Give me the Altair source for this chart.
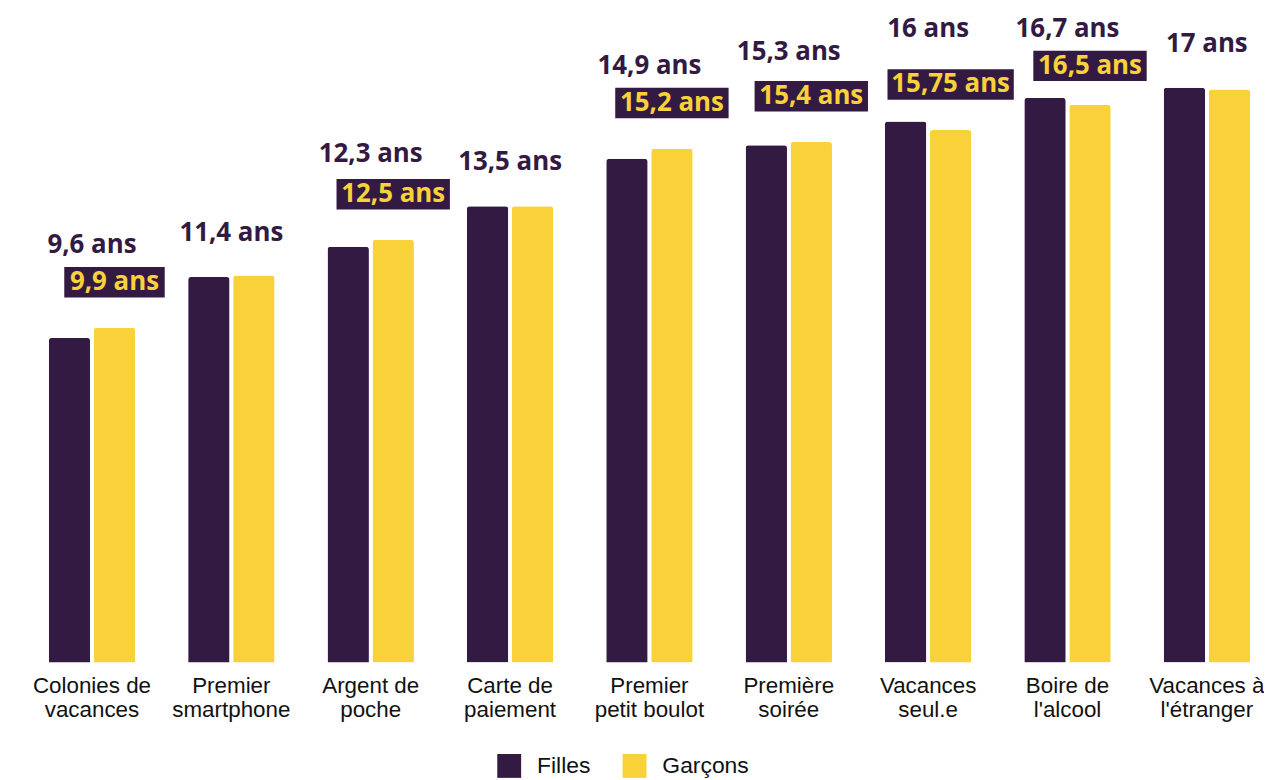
import altair as alt
import pandas as pd

categories = [
    "Colonies de\nvacances", "Premier\nsmartphone", "Argent de\npoche",
    "Carte de\npaiement", "Premier\npetit boulot", "Première\nsoirée",
    "Vacances\nseul.e", "Boire de\nl'alcool", "Vacances à\nl'étranger",
]
filles = [9.6, 11.4, 12.3, 13.5, 14.9, 15.3, 16.0, 16.7, 17.0]
garcons = [9.9, 11.45, 12.5, 13.5, 15.2, 15.4, 15.75, 16.5, 16.95]
top_labels = ["9,6 ans", "11,4 ans", "12,3 ans", "13,5 ans", "14,9 ans",
              "15,3 ans", "16 ans", "16,7 ans", "17 ans"]
box_labels = ["9,9 ans", "", "12,5 ans", "", "15,2 ans", "15,4 ans",
              "15,75 ans", "16,5 ans", ""]
series = ["Filles", "Garçons"]

DARK = "#331a42"
YELLOW = "#f9d23a"

long_df = pd.DataFrame(
    [{"category": c, "series": "Filles", "value": f} for c, f in zip(categories, filles)]
    + [{"category": c, "series": "Garçons", "value": g} for c, g in zip(categories, garcons)]
)
wide_df = pd.DataFrame({
    "category": categories, "filles": filles, "garcons": garcons,
    "top_label": top_labels, "box_label": box_labels, "series": "Garçons",
})

x_enc = alt.X("category:N", sort=categories,
              scale=alt.Scale(paddingInner=0.38, paddingOuter=0.1),
              axis=alt.Axis(title=None, labelAngle=0, domain=False, ticks=False,
                            labelExpr="split(datum.value, '\\n')",
                            labelFont="Liberation Sans", labelFontSize=22.5,
                            labelColor="#111111", labelLineHeight=24,
                            labelPadding=12))
y_scale = alt.Scale(domain=[0, 19.18], nice=False, zero=True)
xoff = alt.XOffset("series:N", sort=series, scale=alt.Scale(paddingInner=0.08, paddingOuter=0))

bars = alt.Chart(long_df).mark_bar(cornerRadiusTopLeft=3, cornerRadiusTopRight=3).encode(
    x=x_enc,
    xOffset=xoff,
    y=alt.Y("value:Q", scale=y_scale, axis=None),
    color=alt.Color("series:N", sort=series,
                    scale=alt.Scale(domain=series, range=[DARK, YELLOW]),
                    legend=alt.Legend(title=None, orient="none", direction="horizontal",
                                      legendX=465, legendY=744,
                                      symbolType="square", symbolSize=576,
                                      symbolStrokeWidth=0, labelFont="Liberation Sans",
                                      labelFontSize=23, labelColor="#111111",
                                      columnPadding=32, labelOffset=16)),
)

top_text = alt.Chart(wide_df).transform_calculate(
    ty="min(datum.filles + (datum.box_label == '' ? 1.3 : 2.75), 18.75)"
).mark_text(font="Open Sans", fontWeight="bold", fontSize=26, color=DARK,
            baseline="middle").encode(
    x=alt.X("category:N", sort=categories),
    y=alt.Y("ty:Q", scale=y_scale),
    text="top_label:N",
)

box_base = alt.Chart(wide_df).transform_filter("datum.box_label != ''").transform_calculate(
    by="min(datum.garcons + 1.35, 17.65)",
    by0="min(datum.garcons + 1.35, 17.65) - 0.45",
    by1="min(datum.garcons + 1.35, 17.65) + 0.45",
    bw="length(datum.box_label) * 13 + 10",
)

box_rect = box_base.mark_bar(color=DARK).encode(
    x=alt.X("category:N", sort=categories),
    xOffset=alt.XOffset("series:N", sort=series),
    y=alt.Y("by0:Q", scale=y_scale),
    y2="by1:Q",
    size=alt.Size("bw:Q", scale=None, legend=None),
)

box_text = box_base.mark_text(font="Open Sans", fontWeight="bold", fontSize=26,
                              color=YELLOW, baseline="middle").encode(
    x=alt.X("category:N", sort=categories),
    xOffset=alt.XOffset("series:N", sort=series),
    y=alt.Y("by:Q", scale=y_scale),
    text="box_label:N",
)

chart = alt.layer(bars, top_text, box_rect, box_text).properties(
    width=1236, height=652, padding={"left": 24, "top": 4, "right": 0, "bottom": 0}
).configure(background="white").configure_view(stroke=None, strokeWidth=0)

chart.save("out.html", embed_options={"renderer": "svg", "actions": False})
